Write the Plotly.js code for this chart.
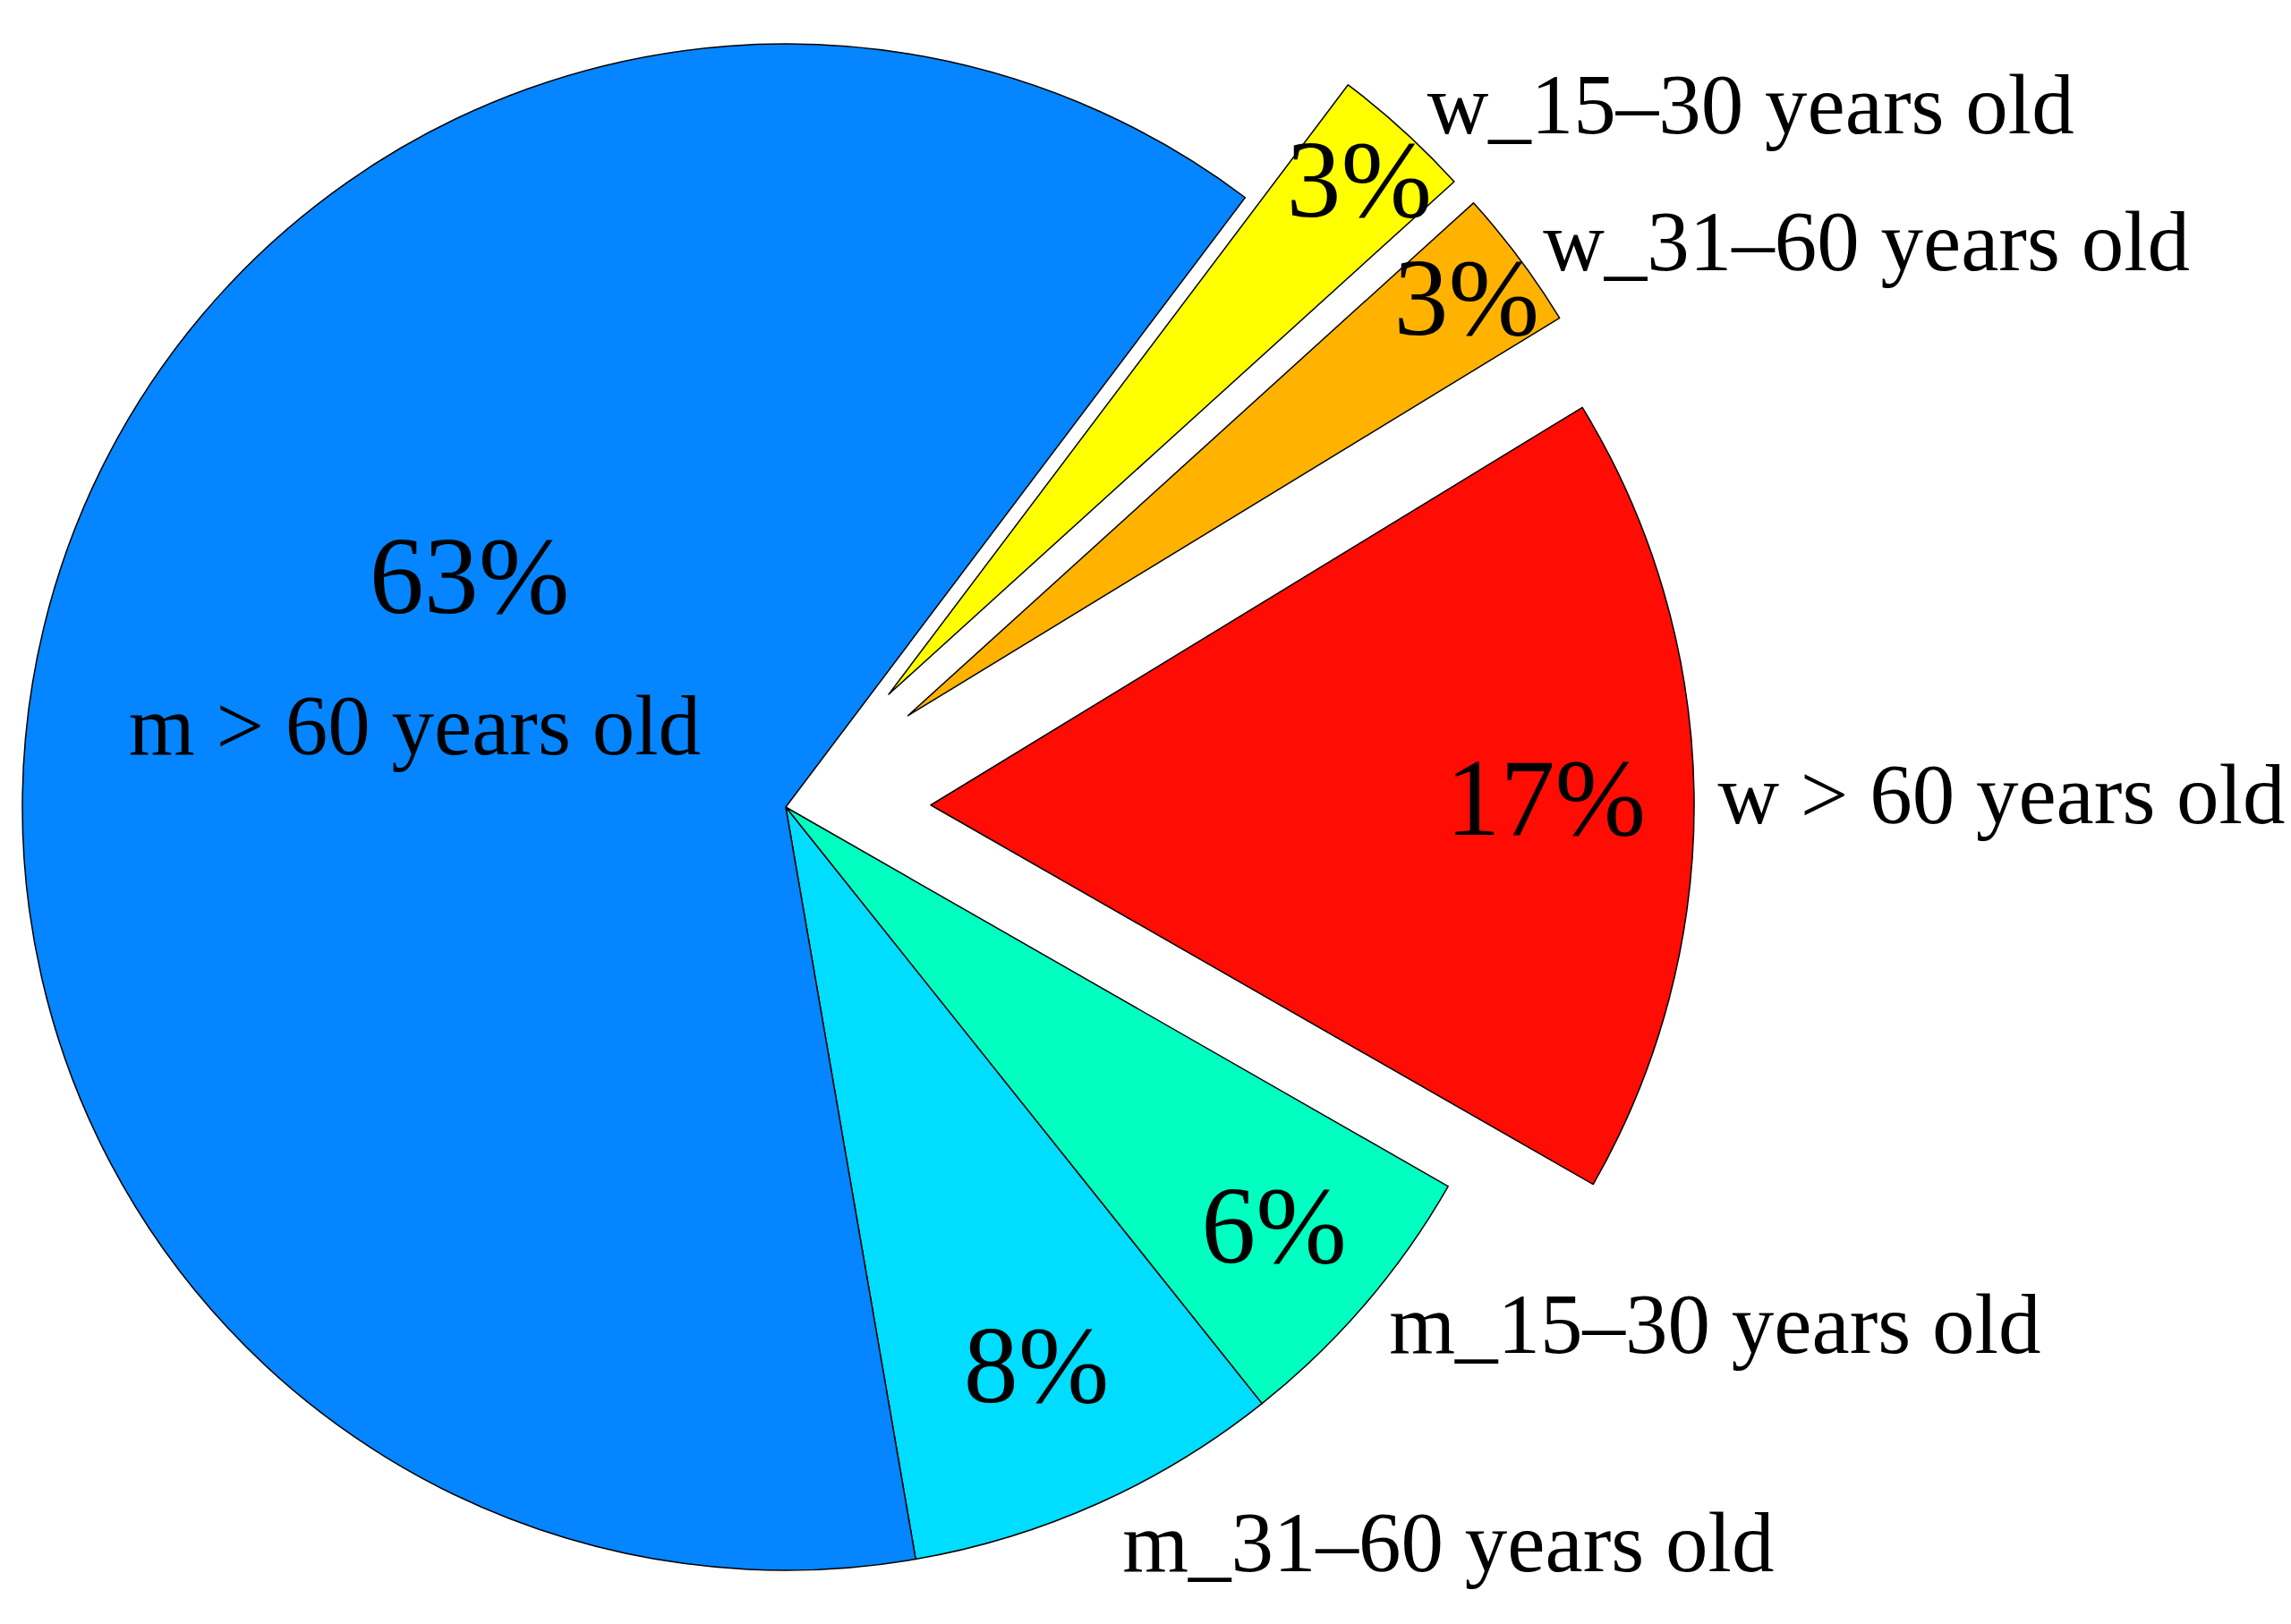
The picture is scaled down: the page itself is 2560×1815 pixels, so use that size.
<!DOCTYPE html>
<html>
<head>
<meta charset="utf-8">
<script src="https://cdn.plot.ly/plotly-3.0.1.min.js"></script>
<style>
  html, body { margin: 0; padding: 0; width: 2560px; height: 1815px; overflow: hidden; background: #ffffff; }
  #chart { position: absolute; left: -200px; top: -150px; width: 2800px; height: 2200px; }
</style>
</head>
<body>
<div id="chart"></div>
<script>
// ---- data (clockwise from the top-right edge of the big slice) ----
const categories = ['w_15\u201330 years old', 'w_31\u201360 years old', 'w &gt; 60 years old',
                    'm_15\u201330 years old', 'm_31\u201360 years old', 'm &gt; 60 years old'];
const shares = [3, 3, 17, 6, 8, 63];            // percent
const sliceColors = ['#FFFF00', '#FFB300', '#FF0C05', '#00FFC0', '#00DDFF', '#0585FF'];
const pullOut = [0.2, 0.2, 0.19, 0, 0, 0];
// label drawn inside its slice (others are drawn outside)
const labelInside = [false, false, false, false, false, true];

// ---- layout geometry (page pixels) ----
const W = 2800, H = 2200, offX = 200, offY = 150;
const cx = 878 + offX, cy = 902 + offY, radius = 853;
const maxPull = Math.max.apply(null, pullOut);
const half = radius * (1 + maxPull);
const domain = {
  x: [(cx - half) / W, (cx + half) / W],
  y: [1 - (cy + half) / H, 1 - (cy - half) / H]
};

const pctSize = 122, lblSize = 95;
const fontFam = '"Liberation Serif", "Times New Roman", serif';
// horizontal nudge of the percent text inside a slice (in no-break spaces)
const nudge = [0, 0, 8, 0, 0, 4];
const pad = n => '&nbsp;'.repeat(n);

const pctText = shares.map((v, i) => labelInside[i]
  ? pad(nudge[i]) + v + '%<br><span style="font-size:' + lblSize + 'px">' + categories[i] + '</span><br>&nbsp;'
  : pad(nudge[i]) + v + '%');
const outText = categories.map((c, i) => labelInside[i] ? ''
  : '<span style="font-size:' + lblSize + 'px">' + c + '</span>');

const common = {
  type: 'pie', values: shares, labels: categories.map((c, i) => 's' + i),
  sort: false, direction: 'clockwise', rotation: 37,
  pull: pullOut, domain: domain, hoverinfo: 'skip', showlegend: false
};

const traceSlices = Object.assign({}, common, {
  text: pctText, textinfo: 'text', textposition: 'inside',
  insidetextorientation: 'horizontal',
  textfont: { family: fontFam, size: pctSize, color: '#000000' },
  marker: { colors: sliceColors, line: { color: '#000000', width: 1.5 } }
});

const traceLabels = Object.assign({}, common, {
  text: outText, textinfo: 'text', textposition: 'outside',
  textfont: { family: fontFam, size: lblSize, color: '#000000' },
  marker: { colors: sliceColors.map(() => 'rgba(0,0,0,0)'), line: { width: 0 } }
});

Plotly.newPlot('chart', [traceSlices, traceLabels], {
  width: W, height: H,
  margin: { l: 0, r: 0, t: 0, b: 0 },
  paper_bgcolor: '#ffffff', plot_bgcolor: '#ffffff',
  font: { family: fontFam, color: '#000000' },
  uniformtext: { mode: 'show', minsize: pctSize },
  showlegend: false
}, { staticPlot: true });
</script>
</body>
</html>
